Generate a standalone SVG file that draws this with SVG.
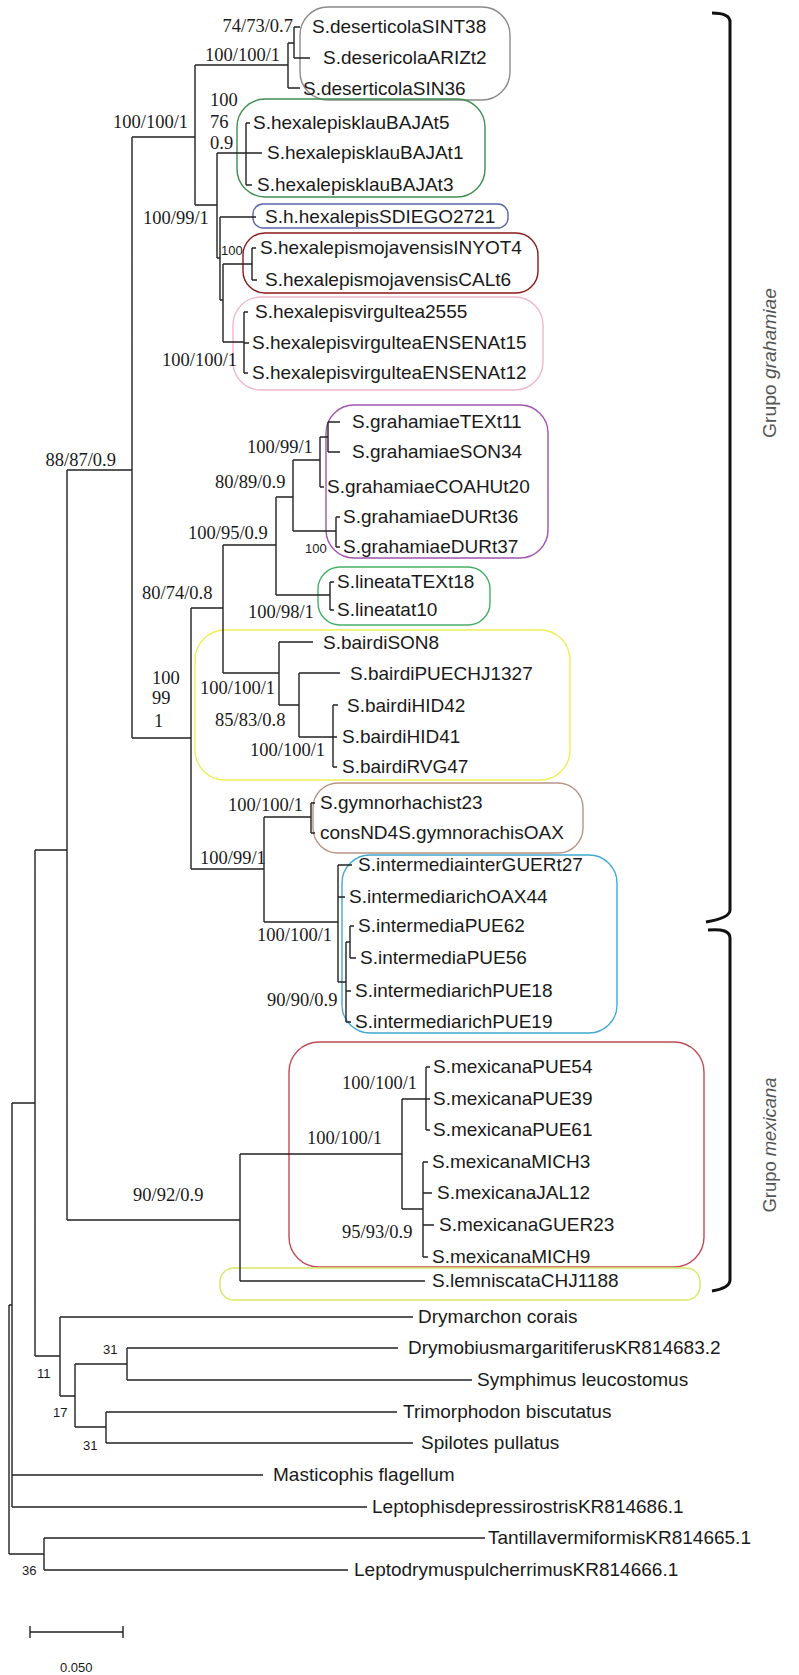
<svg xmlns="http://www.w3.org/2000/svg" width="799" height="1675" viewBox="0 0 799 1675">
<style>
.bg{fill:#ffffff}
.br{fill:none;stroke:#222;stroke-width:1.4}
.lf{font-family:"Liberation Sans",Arial,sans-serif;font-size:19px;fill:#1a1a1a}
.sp{font-family:"Liberation Serif","Times New Roman",serif;font-size:18.5px;fill:#1a1a1a}
.ss{font-family:"Liberation Sans",Arial,sans-serif;font-size:13px;fill:#1a1a1a}
.bx{fill:none;stroke-width:1.4}
.brk{fill:none;stroke:#111;stroke-width:3}
.grp{font-family:"Liberation Sans",Arial,sans-serif;font-size:18px;fill:#555}
</style>
<rect class="bg" x="0" y="0" width="799" height="1675"/>

<g id="boxes">
<rect class="bx" x="300" y="7" width="210" height="93" rx="28" stroke="#8a8a8a"/>
<rect class="bx" x="237" y="99" width="248" height="98" rx="28" stroke="#3f8f50"/>
<rect class="bx" x="253" y="204" width="255" height="24" rx="10" stroke="#5a66a8"/>
<rect class="bx" x="243" y="233" width="295" height="60" rx="22" stroke="#8b1a1a"/>
<rect class="bx" x="233" y="297" width="310" height="93" rx="28" stroke="#f0b8c8"/>
<rect class="bx" x="326" y="405" width="222" height="153" rx="28" stroke="#a055b0"/>
<rect class="bx" x="318" y="567" width="172" height="58" rx="22" stroke="#45b065"/>
<rect class="bx" x="195" y="630" width="375" height="150" rx="30" stroke="#eeee55"/>
<rect class="bx" x="313" y="783" width="270" height="70" rx="25" stroke="#b89585"/>
<rect class="bx" x="342" y="855" width="275" height="178" rx="28" stroke="#40aad0"/>
<rect class="bx" x="289" y="1042" width="415" height="225" rx="30" stroke="#c04a55"/>
<rect class="bx" x="220" y="1268" width="480" height="32" rx="14" stroke="#d8e865"/>
</g>

<g id="connectors">
<path class="br" d="M9,1305V1554 M9,1305H12 M9,1554H44 M44,1538V1570 M44,1538H485 M44,1570H348
M12,1103V1507 M12,1475H263 M12,1507H367 M12,1103H35
M35,850V1356 M35,850H67 M35,1356H60
M60,1317V1396 M60,1317H413 M60,1396H75 M75,1364V1427 M75,1364H127 M127,1348V1380 M127,1348H398 M127,1380H472
M75,1427H106 M106,1412V1443 M106,1412H397 M106,1443H413
M67,470V1220 M67,470H132 M67,1220H240
M240,1154V1281 M240,1281H425 M240,1154H402
M402,1099V1209 M402,1099H426 M426,1067V1130 M426,1067H430 M426,1099H430 M426,1130H430
M402,1209H423 M423,1162V1257 M423,1162H428 M423,1193H432 M423,1225H434 M423,1257H428
M132,137V738 M132,137H195
M195,65V205 M195,65H288 M288,43V88 M288,88H300 M288,43H294 M294,27V58 M294,27H300 M294,58H310
M195,205H217 M217,153V258 M217,153H246 M246,123V185 M246,123H250 M246,153H262 M246,185H252
M217,258H220 M220,217V300 M220,217H256
M220,300H223 M223,264V342 M223,264H252 M252,248V280 M252,248H256 M252,280H257
M223,342H244 M244,312V373 M244,312H248 M244,343H249 M244,373H248
M132,738H191 M191,608V869
M191,608H223 M223,545V673 M223,545H276 M276,497V595 M276,497H293 M293,460V531 M293,460H320
M320,437V487 M320,487H324 M320,437H328 M328,422V452 M328,422H340 M328,452H340
M293,531H336 M336,517V547 M336,517H340 M336,547H340
M276,595H330 M330,582V610 M330,582H334 M330,610H334
M223,673H279 M279,642V705 M279,642H313 M279,705H299 M299,673V737 M299,673H340 M299,737H333
M333,705V767 M333,705H338 M333,737H337 M333,767H337
M191,869H264 M264,817V922 M264,817H311 M311,803V833 M311,803H315 M311,833H315
M264,922H338 M338,865V982 M338,865H352 M338,897H345 M338,982H346 M346,942V1022
M346,942H350 M350,926V958 M350,926H354 M350,958H356 M346,991H351 M346,1022H351"/>
<path class="br" d="M30,1632H123 M30,1626V1638 M123,1626V1638"/>
<path class="brk" d="M712,13Q730,13 730,22V910Q730,918 706,922"/>
<path class="brk" d="M708,930Q730,928 730,938V1280Q730,1288 712,1291"/>
</g>

<g id="leaves">
<text class="lf" x="312" y="33">S.deserticolaSINT38</text>
<text class="lf" x="323" y="64">S.desericolaARIZt2</text>
<text class="lf" x="303" y="95">S.deserticolaSIN36</text>
<text class="lf" x="253" y="129">S.hexalepisklauBAJAt5</text>
<text class="lf" x="267" y="159">S.hexalepisklauBAJAt1</text>
<text class="lf" x="257" y="191">S.hexalepisklauBAJAt3</text>
<text class="lf" x="265" y="223">S.h.hexalepisSDIEGO2721</text>
<text class="lf" x="260" y="254">S.hexalepismojavensisINYOT4</text>
<text class="lf" x="265" y="286">S.hexalepismojavensisCALt6</text>
<text class="lf" x="255" y="318">S.hexalepisvirgultea2555</text>
<text class="lf" x="252" y="349">S.hexalepisvirgulteaENSENAt15</text>
<text class="lf" x="252" y="379">S.hexalepisvirgulteaENSENAt12</text>
<text class="lf" x="352" y="428">S.grahamiaeTEXt11</text>
<text class="lf" x="352" y="458">S.grahamiaeSON34</text>
<text class="lf" x="327" y="493">S.grahamiaeCOAHUt20</text>
<text class="lf" x="343" y="523">S.grahamiaeDURt36</text>
<text class="lf" x="343" y="553">S.grahamiaeDURt37</text>
<text class="lf" x="337" y="588">S.lineataTEXt18</text>
<text class="lf" x="337" y="616">S.lineatat10</text>
<text class="lf" x="323" y="649">S.bairdiSON8</text>
<text class="lf" x="350" y="680">S.bairdiPUECHJ1327</text>
<text class="lf" x="347" y="712">S.bairdiHID42</text>
<text class="lf" x="342" y="743">S.bairdiHID41</text>
<text class="lf" x="342" y="773">S.bairdiRVG47</text>
<text class="lf" x="320" y="809">S.gymnorhachist23</text>
<text class="lf" x="320" y="839">consND4S.gymnorachisOAX</text>
<text class="lf" x="358" y="871">S.intermediainterGUERt27</text>
<text class="lf" x="349" y="903">S.intermediarichOAX44</text>
<text class="lf" x="358" y="932">S.intermediaPUE62</text>
<text class="lf" x="360" y="964">S.intermediaPUE56</text>
<text class="lf" x="355" y="997">S.intermediarichPUE18</text>
<text class="lf" x="355" y="1028">S.intermediarichPUE19</text>
<text class="lf" x="433" y="1073">S.mexicanaPUE54</text>
<text class="lf" x="433" y="1105">S.mexicanaPUE39</text>
<text class="lf" x="433" y="1136">S.mexicanaPUE61</text>
<text class="lf" x="432" y="1168">S.mexicanaMICH3</text>
<text class="lf" x="437" y="1199">S.mexicanaJAL12</text>
<text class="lf" x="439" y="1231">S.mexicanaGUER23</text>
<text class="lf" x="432" y="1263">S.mexicanaMICH9</text>
<text class="lf" x="432" y="1287">S.lemniscataCHJ1188</text>
<text class="lf" x="418" y="1323">Drymarchon corais</text>
<text class="lf" x="408" y="1354">DrymobiusmargaritiferusKR814683.2</text>
<text class="lf" x="477" y="1386">Symphimus leucostomus</text>
<text class="lf" x="403" y="1418">Trimorphodon biscutatus</text>
<text class="lf" x="421" y="1449">Spilotes pullatus</text>
<text class="lf" x="273" y="1481">Masticophis flagellum</text>
<text class="lf" x="372" y="1513">LeptophisdepressirostrisKR814686.1</text>
<text class="lf" x="488" y="1544">TantillavermiformisKR814665.1</text>
<text class="lf" x="354" y="1576">LeptodrymuspulcherrimusKR814666.1</text>
</g>

<g id="support">
<text class="sp" x="293" y="32" text-anchor="end">74/73/0.7</text>
<text class="sp" x="205" y="61">100/100/1</text>
<text class="sp" x="113" y="128">100/100/1</text>
<text class="sp" x="210" y="106">100</text>
<text class="sp" x="210" y="128">76</text>
<text class="sp" x="210" y="149">0.9</text>
<text class="sp" x="143" y="224">100/99/1</text>
<text class="ss" x="221" y="255">100</text>
<text class="sp" x="162" y="366">100/100/1</text>
<text class="sp" x="116" y="466" text-anchor="end">88/87/0.9</text>
<text class="sp" x="247" y="453">100/99/1</text>
<text class="sp" x="215" y="488">80/89/0.9</text>
<text class="sp" x="188" y="539">100/95/0.9</text>
<text class="ss" x="305" y="553">100</text>
<text class="sp" x="142" y="599">80/74/0.8</text>
<text class="sp" x="248" y="618">100/98/1</text>
<text class="sp" x="200" y="694">100/100/1</text>
<text class="sp" x="152" y="684">100</text>
<text class="sp" x="152" y="704">99</text>
<text class="sp" x="154" y="727">1</text>
<text class="sp" x="215" y="726">85/83/0.8</text>
<text class="sp" x="250" y="756">100/100/1</text>
<text class="sp" x="228" y="811">100/100/1</text>
<text class="sp" x="200" y="864">100/99/1</text>
<text class="sp" x="257" y="941">100/100/1</text>
<text class="sp" x="267" y="1006">90/90/0.9</text>
<text class="sp" x="342" y="1089">100/100/1</text>
<text class="sp" x="307" y="1144">100/100/1</text>
<text class="sp" x="133" y="1201">90/92/0.9</text>
<text class="sp" x="342" y="1238">95/93/0.9</text>
<text class="ss" x="103" y="1354">31</text>
<text class="ss" x="37" y="1378">11</text>
<text class="ss" x="53" y="1417">17</text>
<text class="ss" x="83" y="1450">31</text>
<text class="ss" x="22" y="1575">36</text>
<text class="ss" x="60" y="1672">0.050</text>
</g>

<g id="groups">
<text class="grp" transform="translate(776,363) rotate(-90)" text-anchor="middle" textLength="150" lengthAdjust="spacingAndGlyphs">Grupo <tspan font-style="italic">grahamiae</tspan></text>
<text class="grp" transform="translate(776,1145) rotate(-90)" text-anchor="middle" textLength="135" lengthAdjust="spacingAndGlyphs">Grupo <tspan font-style="italic">mexicana</tspan></text>
</g>
</svg>
